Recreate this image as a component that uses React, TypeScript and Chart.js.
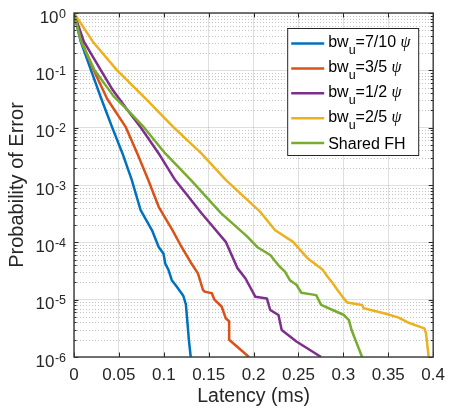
import React, { useEffect, useRef } from 'react';
import { Chart, registerables } from 'chart.js';

Chart.register(...registerables);

const FONT = "'Liberation Sans', Arial, Helvetica, sans-serif";
const SERIF = "'Liberation Serif', 'DejaVu Serif', serif";

const xTicks = [0, 0.05, 0.1, 0.15, 0.2, 0.25, 0.3, 0.35, 0.4];
const xTickLabels = ['0', '0.05', '0.1', '0.15', '0.2', '0.25', '0.3', '0.35', '0.4'];
const yDecades = [1e-6, 1e-5, 1e-4, 1e-3, 1e-2, 1e-1, 1];
const yTickExps = ['-6', '-5', '-4', '-3', '-2', '-1', '0'];
const yMinorMultipliers = [2, 3, 4, 5, 6, 7, 8, 9];

const seriesLabels = ['bw_u=7/10 ψ', 'bw_u=3/5 ψ', 'bw_u=1/2 ψ', 'bw_u=2/5 ψ', 'Shared FH'];
const legendMain = ['bw', 'bw', 'bw', 'bw', 'Shared FH'];
const legendSub = ['u', 'u', 'u', 'u', ''];
const legendRest = ['=7/10 ', '=3/5 ', '=1/2 ', '=2/5 ', ''];
const legendSym = ['ψ', 'ψ', 'ψ', 'ψ', ''];
const colors = ['#0072BD', '#D95319', '#7E2F8E', '#EDB120', '#77AC30'];

const bw710X = [0, 0.0075, 0.019, 0.0305, 0.0424, 0.054, 0.0643, 0.0742, 0.0869, 0.0943, 0.0997, 0.1016, 0.1052, 0.1089, 0.1143, 0.1217, 0.1246, 0.1264, 0.1279, 0.130];
const bw710Y = [1, 0.316, 0.1, 0.0316, 0.0102, 3.55e-3, 1.23e-3, 3.63e-4, 1.62e-4, 8.3e-5, 6.3e-5, 4.27e-5, 3.31e-5, 2.19e-5, 1.70e-5, 1.17e-5, 8.3e-6, 3.9e-6, 2.0e-6, 1e-6];

const bw35X = [0, 0.0085, 0.022, 0.037, 0.0577, 0.0705, 0.0826, 0.0943, 0.1098, 0.1198, 0.1308, 0.138, 0.1436, 0.1454, 0.1535, 0.1564, 0.1644, 0.1691, 0.1728, 0.1728, 0.1948];
const bw35Y = [1, 0.316, 0.1, 0.0316, 0.0102, 3.55e-3, 1.23e-3, 4.17e-4, 1.62e-4, 8.3e-5, 4.27e-5, 2.88e-5, 1.48e-5, 1.38e-5, 1.29e-5, 1.0e-5, 7.6e-6, 4.7e-6, 4.2e-6, 2.0e-6, 1e-6];

const bw12X = [0, 0.011, 0.030, 0.043, 0.0595, 0.0742, 0.0943, 0.1125, 0.1418, 0.169, 0.182, 0.191, 0.202, 0.2148, 0.2185, 0.2277, 0.2313, 0.2477, 0.2752];
const bw12Y = [1, 0.316, 0.1, 0.0457, 0.0204, 0.0102, 3.55e-3, 1.23e-3, 3.24e-4, 1.02e-4, 3.55e-5, 2.34e-5, 1.12e-5, 1.05e-5, 6.6e-6, 5.4e-6, 2.95e-6, 1.86e-6, 1e-6];

const bw25X = [0, 0.021, 0.048, 0.0803, 0.1107, 0.1418, 0.169, 0.193, 0.2075, 0.224, 0.244, 0.2605, 0.277, 0.2824, 0.288, 0.2934, 0.299, 0.3044, 0.3208, 0.3226, 0.3463, 0.3609, 0.3719, 0.3902, 0.392, 0.395];
const bw25Y = [1, 0.316, 0.1, 0.0316, 0.0102, 3.55e-3, 1.23e-3, 5.5e-4, 3.39e-4, 1.62e-4, 1.02e-4, 5.2e-5, 3.31e-5, 2.51e-5, 1.95e-5, 1.48e-5, 1.12e-5, 8.9e-6, 8.1e-6, 7.1e-6, 5.75e-6, 4.9e-6, 4.0e-6, 3.16e-6, 2.57e-6, 1e-6];

const sharedX = [0, 0.008, 0.023, 0.044, 0.0595, 0.0778, 0.1016, 0.130, 0.1637, 0.193, 0.2039, 0.2185, 0.2277, 0.2349, 0.2404, 0.2477, 0.2532, 0.2697, 0.2752, 0.288, 0.3007, 0.3062, 0.3091, 0.3208];
const sharedY = [1, 0.316, 0.1, 0.0355, 0.0204, 0.0102, 3.55e-3, 1.23e-3, 3.24e-4, 1.26e-4, 8.3e-5, 6.0e-5, 3.98e-5, 3.09e-5, 2.19e-5, 1.82e-5, 1.32e-5, 1.20e-5, 8.1e-6, 6.6e-6, 5.4e-6, 4.4e-6, 2.95e-6, 1e-6];

const seriesX = [bw710X, bw35X, bw12X, bw25X, sharedX];
const seriesY = [bw710Y, bw35Y, bw12Y, bw25Y, sharedY];

const AXIS = '#262626';
const MAJOR_GRID = 'rgba(38,38,38,0.15)';

const yAllTicks: { value: number; major: boolean }[] = [];
yDecades.forEach((d, i) => {
  yAllTicks.push({ value: d, major: true });
  if (i < yDecades.length - 1) yMinorMultipliers.forEach((m) => yAllTicks.push({ value: +(d * m).toPrecision(3), major: false }));
});

const matlabPlugin = {
  id: 'matlabAxes',
  beforeDatasetsDraw(chart: any) {
    const { ctx, chartArea: a, scales } = chart;
    const y = scales.y;
    ctx.save();
    ctx.strokeStyle = 'rgba(38,38,38,0.28)';
    ctx.lineWidth = 1;
    ctx.setLineDash([1, 2]);
    yAllTicks.forEach((t) => {
      if (t.major) return;
      const py = Math.round(y.getPixelForValue(t.value)) + 0.5;
      ctx.beginPath();
      ctx.moveTo(a.left, py);
      ctx.lineTo(a.right, py);
      ctx.stroke();
    });
    ctx.restore();
  },
  afterDatasetsDraw(chart: any) {
    const { ctx, chartArea: a, scales } = chart;
    const x = scales.x;
    const y = scales.y;
    ctx.save();
    // ticks
    ctx.strokeStyle = AXIS;
    ctx.lineWidth = 1;
    xTicks.forEach((v) => {
      const px = Math.round(x.getPixelForValue(v)) + 0.5;
      ctx.beginPath();
      ctx.moveTo(px, a.bottom);
      ctx.lineTo(px, a.bottom - 4.5);
      ctx.moveTo(px, a.top);
      ctx.lineTo(px, a.top + 4.5);
      ctx.stroke();
    });
    yAllTicks.forEach((t) => {
      const py = Math.round(y.getPixelForValue(t.value)) + 0.5;
      const len = t.major ? 4.5 : 2.5;
      ctx.beginPath();
      ctx.moveTo(a.left, py);
      ctx.lineTo(a.left + len, py);
      ctx.moveTo(a.right, py);
      ctx.lineTo(a.right - len, py);
      ctx.stroke();
    });
    // box
    ctx.lineWidth = 1.4;
    ctx.strokeStyle = '#3a3a3a';
    ctx.strokeRect(a.left, a.top, a.right - a.left, a.bottom - a.top);

    // y tick labels 10^k
    ctx.fillStyle = AXIS;
    ctx.textAlign = 'left';
    ctx.textBaseline = 'alphabetic';
    const R = 66;
    yDecades.forEach((v, i) => {
      const py = y.getPixelForValue(v);
      ctx.font = `12.5px ${FONT}`;
      const ew = ctx.measureText(yTickExps[i]).width;
      ctx.fillText(yTickExps[i], R - ew, py + 4.7);
      ctx.font = `17px ${FONT}`;
      const bw = ctx.measureText('10').width;
      ctx.fillText('10', R - ew - bw - 0.5, py + 9.7);
    });

    // legend
    const lx = a.right - 146;
    const ly = a.top + 15;
    const lw = 131;
    const lh = 127;
    ctx.fillStyle = '#ffffff';
    ctx.fillRect(lx, ly, lw, lh);
    ctx.strokeStyle = AXIS;
    ctx.lineWidth = 1;
    ctx.strokeRect(lx + 0.5, ly + 0.5, lw, lh);
    seriesLabels.forEach((_, i) => {
      const cy = ly + 15.5 + i * 24.9;
      ctx.strokeStyle = colors[i];
      ctx.lineWidth = 2.5;
      ctx.beginPath();
      ctx.moveTo(lx + 4, cy);
      ctx.lineTo(lx + 37, cy);
      ctx.stroke();
      ctx.fillStyle = '#000000';
      let tx = lx + 41;
      if (legendSub[i]) {
        ctx.font = `16px ${FONT}`;
        ctx.fillText(legendMain[i], tx, cy + 3.8);
        tx += ctx.measureText(legendMain[i]).width;
        ctx.font = `12.5px ${FONT}`;
        ctx.fillText(legendSub[i], tx, cy + 10.8);
        tx += ctx.measureText(legendSub[i]).width;
        ctx.font = `16px ${FONT}`;
        ctx.fillText(legendRest[i], tx, cy + 3.8);
        tx += ctx.measureText(legendRest[i]).width;
        ctx.font = `italic 16px ${SERIF}`;
        ctx.fillText(legendSym[i], tx, cy + 3.8);
      } else {
        ctx.font = `16px ${FONT}`;
        ctx.fillText(legendMain[i], tx, cy + 6);
      }
    });
    ctx.restore();
  },
};

export default function App() {
  const ref = useRef<HTMLCanvasElement>(null);
  useEffect(() => {
    document.body.style.margin = '0';
    const datasets = seriesLabels.map((label, i) => ({
      label,
      data: seriesX[i].map((xv, j) => ({ x: xv, y: seriesY[i][j] })),
      borderColor: colors[i],
      backgroundColor: colors[i],
      borderWidth: 2.5,
      pointRadius: 0,
      tension: 0,
      fill: false,
      borderJoinStyle: 'round' as const,
      order: seriesLabels.length - 1 - i,
    }));
    const chart = new Chart(ref.current as HTMLCanvasElement, {
      type: 'line',
      data: { datasets },
      plugins: [matlabPlugin],
      options: {
        animation: false,
        responsive: true,
        maintainAspectRatio: false,
        layout: { padding: { left: 0, right: 14, top: 13, bottom: 0 } },
        plugins: {
          legend: { display: false },
          tooltip: { enabled: false },
        },
        scales: {
          x: {
            type: 'linear',
            min: 0,
            max: 0.4,
            afterBuildTicks: (s: any) => {
              s.ticks = xTicks.map((v) => ({ value: v }));
            },
            afterFit: (s: any) => {
              s.height = 51;
            },
            grid: { color: MAJOR_GRID, drawTicks: false, lineWidth: 1 },
            border: { display: false },
            ticks: {
              padding: 8,
              color: AXIS,
              autoSkip: false,
              maxRotation: 0,
              font: { family: FONT, size: 17 },
              callback: (_v: any, idx: number) => xTickLabels[idx],
            },
            title: {
              display: true,
              text: 'Latency (ms)',
              color: AXIS,
              font: { family: FONT, size: 19.5 },
              padding: { top: 0, bottom: 0 },
            },
          },
          y: {
            type: 'logarithmic',
            min: 1e-6,
            max: 1,
            afterBuildTicks: (s: any) => {
              s.ticks = yAllTicks.map((t) => ({ value: t.value, major: t.major }));
            },
            afterFit: (s: any) => {
              s.width = 74;
            },
            grid: {
              color: (c: any) => (c.tick && c.tick.major ? MAJOR_GRID : 'rgba(0,0,0,0)'),
              drawTicks: false,
              lineWidth: 1,
            },
            border: { display: false },
            ticks: { display: false },
            title: {
              display: true,
              text: 'Probability of Error',
              color: AXIS,
              font: { family: FONT, size: 20 },
              padding: { top: 5, bottom: 0 },
            },
          },
        },
      } as any,
    });
    return () => chart.destroy();
  }, []);
  return (
    <div style={{ position: 'relative', width: 453, height: 408 }}>
      <canvas ref={ref} />
    </div>
  );
}
